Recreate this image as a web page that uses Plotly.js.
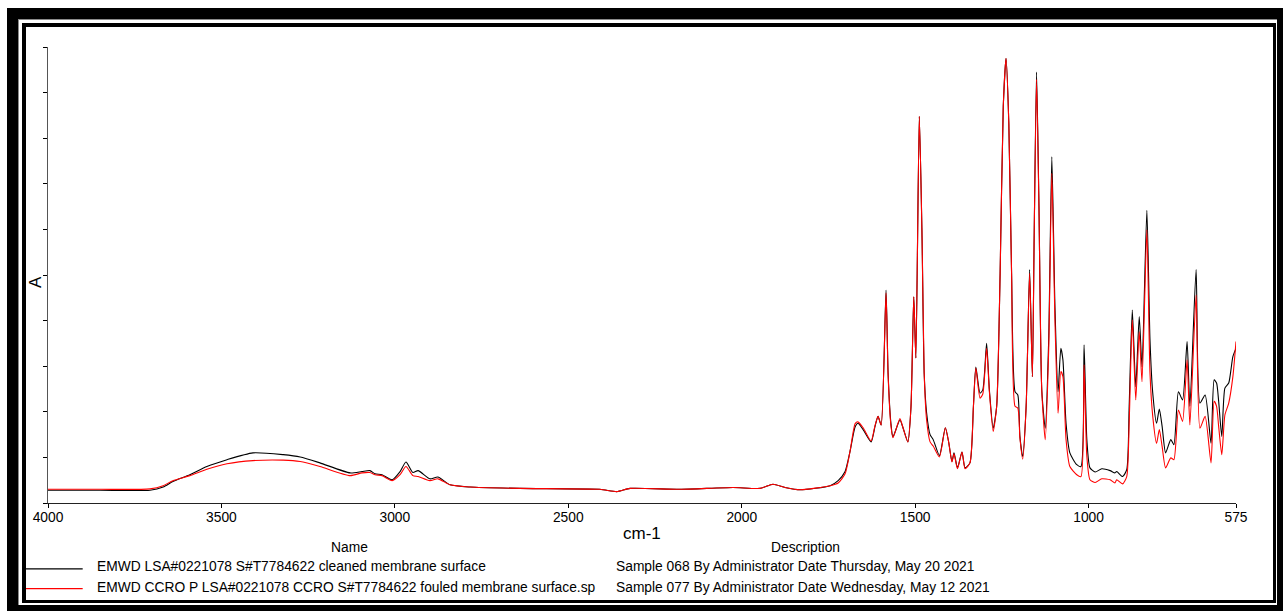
<!DOCTYPE html>
<html>
<head>
<meta charset="utf-8">
<script src="https://cdn.plot.ly/plotly-3.0.1.min.js"></script>
<style>
  html, body { margin: 0; padding: 0; background: #fff; }
  #wrap { position: relative; width: 1283px; height: 611px; overflow: hidden; }
  #chart { position: absolute; left: 0; top: 0; width: 1283px; height: 611px; }
  .frame { position: absolute; box-sizing: border-box; pointer-events: none; border-style: solid; }
</style>
</head>
<body>
<div id="wrap">
  <div id="chart"></div>
  <div class="frame" style="left:7px;top:8px;width:1276px;height:603px;border-color:#000;border-width:11px 6px 6px 11px;"></div>
  <div class="frame" style="left:18px;top:19px;width:1259px;height:586px;border-color:#8a8a8a;border-width:1px 0 0 1px;"></div>
  <div class="frame" style="left:22px;top:23px;width:1254px;height:580px;border-color:#000;border-width:4px 3px 3px 4px;"></div>
</div>
<script>
// Wavenumber (cm-1), shared by both spectra
const wavenumber = [4000,3850,3706,3668,3640,3591,3542,3484,3409,3322,3273,3216,3129,3095,3072,3057,3037,3008,2985,2968,2948,2933,2899,2876,2841,2783,2639,2409,2360,2322,2178,2025,1947,1910,1875,1832,1745,1722,1702,1688,1673,1665,1650,1627,1616,1607,1598,1584,1578,1570,1564,1544,1535,1521,1512,1504,1498,1488,1480,1474,1467,1457,1448,1430,1413,1403,1394,1388,1378,1365,1356,1342,1332,1325,1313,1305,1294,1286,1275,1265,1255,1246,1238,1230,1222,1212,1204,1198,1190,1180,1170,1162,1157,1150,1143,1135,1125,1115,1106,1097,1088,1080,1074,1065,1054,1034,1022,1013,1005,996,981,962,938,924,919,902,890,883,874,864,854,846,832,823,815,804,796,788,778,763,754,741,729,716,708,690,679,664,647,638,631,625,616,607,596,584,575];

// Absorbance, cleaned membrane surface (black)
const cleaned = [0.028,0.028,0.028,0.035,0.047,0.062,0.080,0.095,0.110,0.106,0.101,0.088,0.066,0.069,0.071,0.064,0.062,0.051,0.069,0.090,0.067,0.071,0.053,0.057,0.040,0.035,0.032,0.030,0.025,0.032,0.030,0.034,0.032,0.041,0.034,0.029,0.038,0.049,0.069,0.112,0.167,0.175,0.161,0.134,0.167,0.190,0.171,0.467,0.285,0.176,0.145,0.182,0.165,0.134,0.211,0.452,0.318,0.848,0.577,0.285,0.198,0.150,0.139,0.104,0.165,0.132,0.091,0.110,0.077,0.112,0.077,0.088,0.212,0.298,0.241,0.248,0.350,0.248,0.164,0.212,0.504,0.869,0.975,0.833,0.504,0.244,0.237,0.146,0.102,0.212,0.512,0.277,0.577,0.945,0.650,0.248,0.164,0.358,0.759,0.431,0.244,0.339,0.314,0.175,0.110,0.084,0.080,0.347,0.139,0.077,0.068,0.075,0.071,0.066,0.069,0.058,0.073,0.212,0.423,0.255,0.409,0.299,0.642,0.358,0.241,0.175,0.206,0.168,0.110,0.139,0.128,0.244,0.226,0.354,0.212,0.512,0.219,0.237,0.131,0.270,0.263,0.223,0.146,0.252,0.263,0.321,0.339];

// Absorbance, fouled membrane surface (red)
const fouled = [0.030,0.030,0.031,0.038,0.049,0.060,0.074,0.086,0.093,0.094,0.091,0.080,0.060,0.066,0.067,0.062,0.060,0.049,0.062,0.080,0.060,0.058,0.049,0.053,0.040,0.035,0.032,0.030,0.025,0.032,0.030,0.034,0.032,0.041,0.034,0.029,0.038,0.044,0.064,0.112,0.174,0.178,0.165,0.136,0.169,0.190,0.171,0.461,0.281,0.171,0.143,0.185,0.165,0.134,0.211,0.452,0.318,0.848,0.577,0.285,0.182,0.134,0.125,0.101,0.165,0.132,0.090,0.108,0.075,0.112,0.075,0.088,0.212,0.296,0.230,0.239,0.339,0.244,0.157,0.212,0.504,0.869,0.975,0.833,0.504,0.212,0.208,0.143,0.096,0.212,0.504,0.277,0.577,0.929,0.642,0.248,0.139,0.336,0.723,0.401,0.197,0.288,0.277,0.139,0.080,0.062,0.058,0.303,0.102,0.051,0.045,0.053,0.051,0.044,0.051,0.042,0.058,0.175,0.401,0.226,0.376,0.266,0.599,0.285,0.190,0.131,0.161,0.124,0.077,0.099,0.095,0.204,0.179,0.314,0.171,0.456,0.164,0.190,0.088,0.223,0.212,0.168,0.106,0.193,0.219,0.277,0.354];

const xTickVals = [4000,3500,3000,2500,2000,1500,1000,575];
const xTickText = ['4000','3500','3000','2500','2000','1500','1000','575'];

const seriesNames = [
  'EMWD LSA#0221078 S#T7784622 cleaned membrane surface',
  'EMWD CCRO P LSA#0221078 CCRO S#T7784622 fouled membrane surface.sp'
];
const seriesDescriptions = [
  'Sample 068 By Administrator Date Thursday, May 20 2021',
  'Sample 077 By Administrator Date Wednesday, May 12 2021'
];
const seriesColors = ['#000000', '#ff0000'];

const FONT = 'Liberation Sans, Arial, Helvetica, sans-serif';

const traces = [cleaned, fouled].map((ys, i) => ({
  type: 'scatter',
  mode: 'lines',
  x: wavenumber,
  y: ys,
  name: seriesNames[i],
  line: { color: seriesColors[i], width: 1.1, shape: 'spline', smoothing: 0.6 },
  hoverinfo: 'x+y'
}));

// legend table (paper coordinates)
const rowY = [-0.1402, -0.1848];
const lineY = [-0.1445, -0.1877];
const shapes = [];
const annotations = [
  { text: 'cm-1', x: 0.5, y: -0.066, xref: 'paper', yref: 'paper', xanchor: 'center', yanchor: 'middle', showarrow: false, font: { family: FONT, size: 17, color: '#000' } },
  { text: 'A', x: -0.0105, y: 0.4836, xref: 'paper', yref: 'paper', xanchor: 'center', yanchor: 'middle', textangle: -90, showarrow: false, font: { family: FONT, size: 17, color: '#000' } },
  { text: 'Name', x: 0.2538, y: -0.0975, xref: 'paper', yref: 'paper', xanchor: 'center', yanchor: 'middle', showarrow: false, font: { family: FONT, size: 13.8, color: '#000' } },
  { text: 'Description', x: 0.6376, y: -0.0975, xref: 'paper', yref: 'paper', xanchor: 'center', yanchor: 'middle', showarrow: false, font: { family: FONT, size: 13.8, color: '#000' } }
];
seriesNames.forEach((nm, i) => {
  shapes.push({ type: 'line', xref: 'paper', yref: 'paper', x0: -0.0185, x1: 0.0292, y0: lineY[i], y1: lineY[i], line: { color: seriesColors[i], width: 1.2 } });
  annotations.push({ text: nm, x: 0.0398, y: rowY[i], xref: 'paper', yref: 'paper', xanchor: 'left', yanchor: 'middle', showarrow: false, font: { family: FONT, size: 13.8, color: '#000' } });
  annotations.push({ text: seriesDescriptions[i], x: 0.4766, y: rowY[i], xref: 'paper', yref: 'paper', xanchor: 'left', yanchor: 'middle', showarrow: false, font: { family: FONT, size: 13.8, color: '#000' } });
});

const layout = {
  width: 1283,
  height: 611,
  margin: { l: 48, r: 47, t: 46.7, b: 107.7, pad: 0 },
  paper_bgcolor: '#ffffff',
  plot_bgcolor: '#ffffff',
  showlegend: false,
  font: { family: FONT, size: 13.8, color: '#000' },
  xaxis: {
    range: [4000, 575],
    tickmode: 'array',
    tickvals: xTickVals,
    ticktext: xTickText,
    ticks: 'outside',
    ticklen: 4,
    tickwidth: 1,
    tickcolor: '#000',
    ticklabelstandoff: -3,
    showline: true,
    linecolor: '#222',
    linewidth: 1,
    showgrid: false,
    zeroline: false,
    tickfont: { family: FONT, size: 13.8, color: '#000' }
  },
  yaxis: {
    range: [0, 1],
    dtick: 0.1,
    tick0: 0,
    ticks: 'outside',
    ticklen: 4,
    tickwidth: 1,
    tickcolor: '#000',
    showticklabels: false,
    showline: true,
    linecolor: '#555',
    linewidth: 1,
    showgrid: false,
    zeroline: false
  },
  shapes: shapes,
  annotations: annotations
};

Plotly.newPlot('chart', traces, layout, { displayModeBar: false, staticPlot: true });
</script>
</body>
</html>
